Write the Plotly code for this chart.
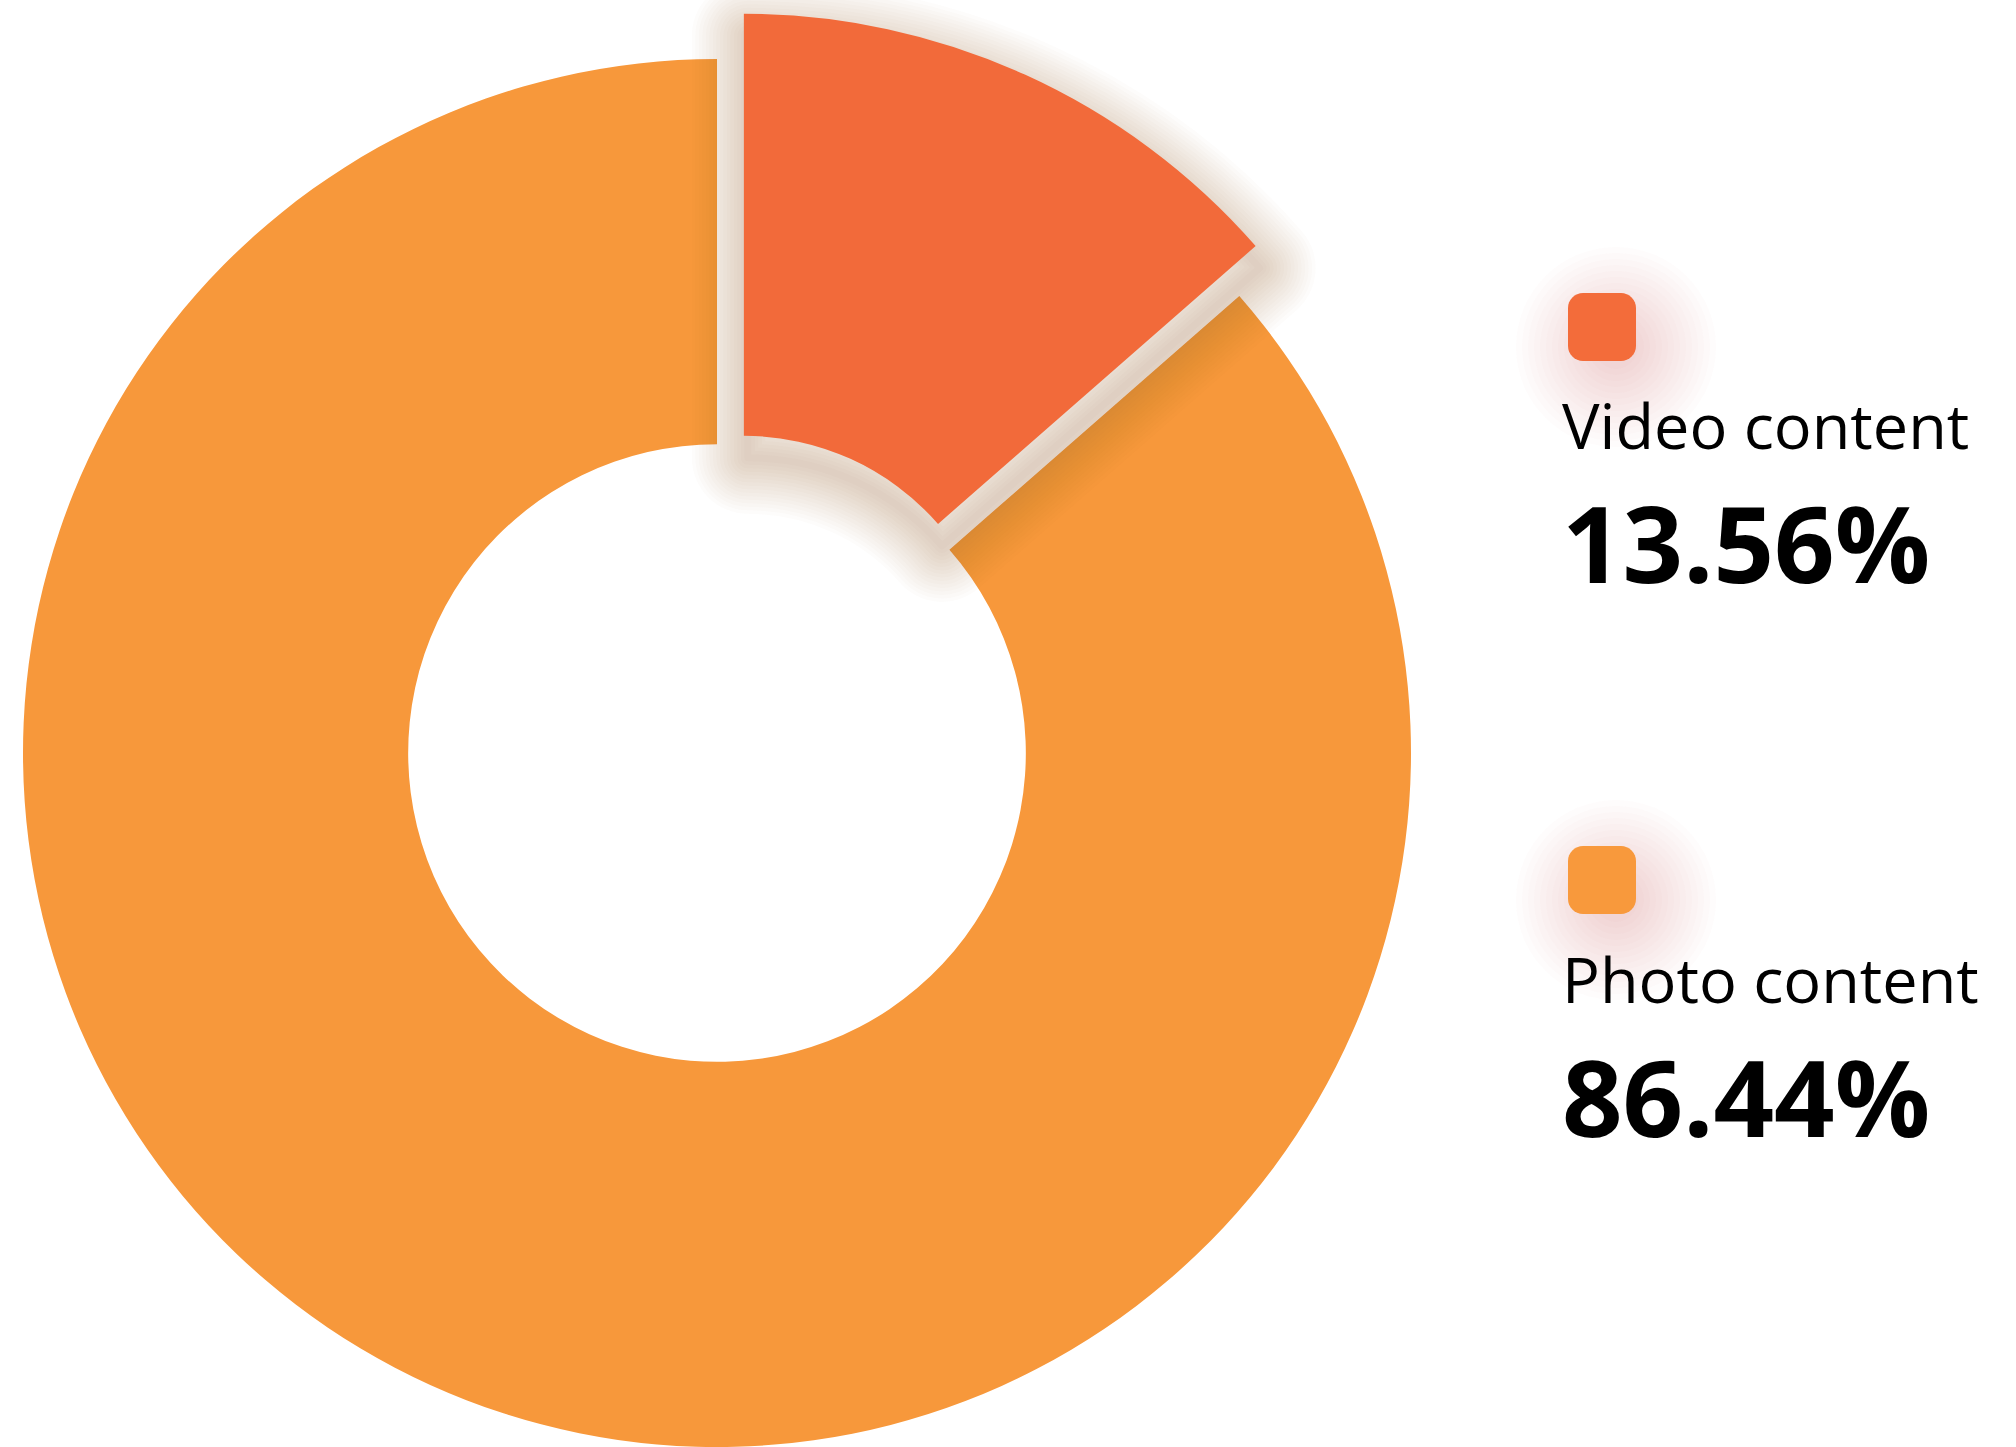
import math
import plotly.graph_objects as go

# Share of content types
categories = ["Video content", "Photo content"]
shares = [13.56, 86.44]
share_labels = ["13.56%", "86.44%"]
slice_colors = ["#F26A3A", "#F7983B"]
swatch_colors = ["#F36C3A", "#F8993C"]

W, H = 2016, 1447

# Ring geometry (pixels)
CX, CY = 717, 753          # ring centre
R_OUT = 694                # outer radius of the main ring
HOLE = 0.445               # hole fraction of the main ring
PULL_PX = 65               # how far the highlighted slice is pulled out
R_PULLED = 680             # outer radius of the pulled slice
R_PULLED_IN = 258          # inner radius of the pulled slice
SHADOW_DROP = 22           # vertical offset of the drop shadow


def domain(cx, cy, r):
    """Square pie domain (paper units) centred on a pixel point."""
    return dict(x=[(cx - r) / W, (cx + r) / W],
                y=[(H - cy - r) / H, (H - cy + r) / H])


total = sum(shares)
mid_angle = math.radians(360 * (shares[0] / 2) / total)
pcx = CX + PULL_PX * math.sin(mid_angle)
pcy = CY - PULL_PX * math.cos(mid_angle)

clear = "rgba(0,0,0,0)"
common = dict(labels=categories, values=shares, sort=False,
              direction="clockwise", rotation=0, textinfo="none",
              showlegend=False)

fig = go.Figure()

# Main ring: only the photo slice is painted here
fig.add_trace(go.Pie(
    **common, hole=HOLE, domain=domain(CX, CY, R_OUT),
    hoverinfo="label+percent",
    marker=dict(colors=[clear, slice_colors[1]],
                line=dict(width=0, color=clear)),
))

# Soft drop shadow under the pulled slice, built from widening strokes
for i in range(1, 17):
    fig.add_trace(go.Pie(
        **common, hole=R_PULLED_IN / R_PULLED,
        domain=domain(pcx + 4, pcy + SHADOW_DROP, R_PULLED),
        marker=dict(colors=[clear, clear],
                    line=dict(width=[7 * i, 0],
                              color=["rgba(175,92,72,0.019)", clear])),
        hoverinfo="skip",
    ))

# Pulled-out video slice
fig.add_trace(go.Pie(
    **common, hole=R_PULLED_IN / R_PULLED,
    domain=domain(pcx, pcy, R_PULLED),
    hoverinfo="label+percent",
    marker=dict(colors=[slice_colors[0], clear],
                line=dict(width=0, color=clear)),
))

# Legend: rounded swatches with a soft glow, label and bold value
SW_X, SW = 1568, 68
swatch_tops = [293, 846]
text_mid = [498, 1052]
CORNER = 15


def px(x):
    return x / W


def py(y):
    return 1 - y / H


def rounded_rect(x0, y0, x1, y1, r):
    pts = []
    steps = 8
    corners = [(x1 - r, y0 + r, -90), (x1 - r, y1 - r, 0),
               (x0 + r, y1 - r, 90), (x0 + r, y0 + r, 180)]
    for ccx, ccy, a0 in corners:
        for k in range(steps + 1):
            a = math.radians(a0 + 90 * k / steps)
            pts.append((ccx + r * math.cos(a), ccy + r * math.sin(a)))
    d = "M " + " L ".join(f"{px(x):.5f},{py(y):.5f}" for x, y in pts) + " Z"
    return d


shapes = []
for i, top in enumerate(swatch_tops):
    gx, gy = SW_X + SW / 2 + 14, top + SW / 2 + 20
    for k in range(14):
        rr = 100 - 6 * k
        shapes.append(dict(type="circle", xref="paper", yref="paper",
                           x0=px(gx - rr), x1=px(gx + rr),
                           y0=py(gy + rr), y1=py(gy - rr),
                           fillcolor="rgba(185,120,100,0.018)",
                           line=dict(width=0), layer="below"))
    shapes.append(dict(type="path", xref="paper", yref="paper",
                       path=rounded_rect(SW_X, top, SW_X + SW, top + SW, CORNER),
                       fillcolor=swatch_colors[i], line=dict(width=0)))

annotations = []
for i, name in enumerate(categories):
    text = (f"<span style='font-size:63px'>{name}</span><br>"
            f"<span style='font-size:106px;font-weight:700'>{share_labels[i]}</span>")
    annotations.append(dict(
        text=text, x=px(SW_X - 8), y=py(text_mid[i]), xref="paper", yref="paper",
        xanchor="left", yanchor="middle", align="left", showarrow=False,
        font=dict(family="Open Sans", size=103, color="#000000")))

fig.update_layout(
    width=W, height=H,
    margin=dict(l=0, r=0, t=0, b=0),
    paper_bgcolor="white", plot_bgcolor="white",
    shapes=shapes, annotations=annotations,
)

fig.write_html("out.html")
